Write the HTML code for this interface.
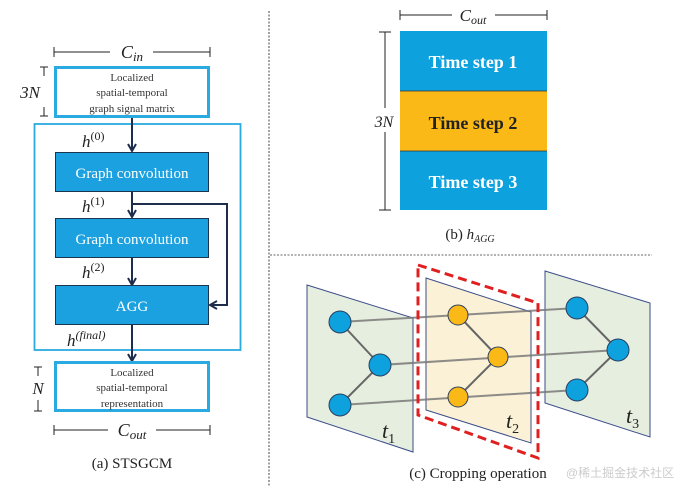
<!DOCTYPE html>
<html><head><meta charset="utf-8"><style>body{margin:0;background:#fff}svg{display:block}</style></head><body>
<svg width="683" height="487" viewBox="0 0 683 487" xmlns="http://www.w3.org/2000/svg" font-family="Liberation Serif, serif">
<defs><marker id="ar" markerWidth="10" markerHeight="10" refX="8" refY="5" orient="auto" markerUnits="userSpaceOnUse"><path d="M1,1 L8,5 L1,9" fill="none" stroke="#1f2d4d" stroke-width="2"/></marker></defs>
<line x1="269" y1="11" x2="269" y2="487" stroke="#444" stroke-width="1" stroke-dasharray="2,1.5"/>
<line x1="270" y1="255" x2="652" y2="255" stroke="#666" stroke-width="1" stroke-dasharray="2,1.5"/>
<g stroke="#222" stroke-width="1">
<line x1="54" y1="52" x2="110" y2="52"/><line x1="153" y1="52" x2="210" y2="52"/><line x1="54" y1="47" x2="54" y2="57"/><line x1="210" y1="47" x2="210" y2="57"/>
<line x1="40" y1="67" x2="48" y2="67"/><line x1="44" y1="67" x2="44" y2="76"/><line x1="40" y1="116" x2="48" y2="116"/><line x1="44" y1="107" x2="44" y2="116"/>
<line x1="34" y1="367" x2="42" y2="367"/><line x1="38" y1="367" x2="38" y2="376"/><line x1="34" y1="411" x2="42" y2="411"/><line x1="38" y1="400" x2="38" y2="411"/>
<line x1="54" y1="430" x2="108" y2="430"/><line x1="156" y1="430" x2="210" y2="430"/><line x1="54" y1="425" x2="54" y2="435"/><line x1="210" y1="425" x2="210" y2="435"/>
</g>
<text x="132" y="58" font-size="18" font-style="italic" text-anchor="middle" fill="#222">C<tspan font-size="13" dy="3">in</tspan></text>
<text x="30" y="98" font-size="17" font-style="italic" text-anchor="middle" fill="#222">3N</text>
<text x="38" y="394" font-size="17" font-style="italic" text-anchor="middle" fill="#222">N</text>
<text x="132" y="436" font-size="18" font-style="italic" text-anchor="middle" fill="#222">C<tspan font-size="13" dy="3">out</tspan></text>
<rect x="55.5" y="67.5" width="153" height="49" fill="#fff" stroke="#29abe2" stroke-width="3"/>
<g font-size="11" fill="#333" text-anchor="middle"><text x="132" y="81">Localized</text><text x="132" y="96">spatial-temporal</text><text x="132" y="112">graph signal matrix</text></g>
<rect x="34.5" y="124" width="206" height="226" fill="none" stroke="#29abe2" stroke-width="1.8"/>
<g stroke="#1f2d4d" stroke-width="2" fill="none">
<line x1="132" y1="118" x2="132" y2="151" marker-end="url(#ar)"/>
<line x1="132" y1="191" x2="132" y2="217" marker-end="url(#ar)"/>
<line x1="132" y1="258" x2="132" y2="285" marker-end="url(#ar)"/>
<line x1="132" y1="324" x2="132" y2="361" marker-end="url(#ar)"/>
<polyline points="133,204 227,204 227,305 210,305" marker-end="url(#ar)"/>
</g>
<g fill="#1ba1df" stroke="#1a3550" stroke-width="1"><rect x="55.5" y="152.5" width="153" height="39"/><rect x="55.5" y="218.5" width="153" height="39"/><rect x="55.5" y="285.5" width="153" height="39"/></g>
<g fill="#fff" font-size="15" text-anchor="middle"><text x="132" y="178">Graph convolution</text><text x="132" y="244">Graph convolution</text><text x="132" y="311">AGG</text></g>
<g font-size="17" font-style="italic" fill="#222"><text x="82" y="147">h<tspan font-size="12" dy="-7" font-style="normal">(0)</tspan></text><text x="82" y="212">h<tspan font-size="12" dy="-7" font-style="normal">(1)</tspan></text><text x="82" y="278">h<tspan font-size="12" dy="-7" font-style="normal">(2)</tspan></text><text x="67" y="346">h<tspan font-size="12" dy="-7">(final)</tspan></text></g>
<rect x="55.5" y="362.5" width="153" height="48" fill="#fff" stroke="#29abe2" stroke-width="3"/>
<g font-size="11" fill="#333" text-anchor="middle"><text x="132" y="376">Localized</text><text x="132" y="391">spatial-temporal</text><text x="132" y="407">representation</text></g>
<text x="132" y="468" font-size="15" text-anchor="middle" fill="#222">(a) STSGCM</text>
<g stroke="#222" stroke-width="1">
<line x1="400" y1="15" x2="452" y2="15"/><line x1="495" y1="15" x2="547" y2="15"/><line x1="400" y1="10" x2="400" y2="20"/><line x1="547" y1="10" x2="547" y2="20"/>
<line x1="385" y1="32" x2="385" y2="108"/><line x1="385" y1="132" x2="385" y2="210"/><line x1="379" y1="32" x2="391" y2="32"/><line x1="379" y1="210" x2="391" y2="210"/>
</g>
<text x="473" y="21" font-size="17" font-style="italic" text-anchor="middle" fill="#222">C<tspan font-size="12" dy="3">out</tspan></text>
<text x="384" y="127" font-size="16" font-style="italic" text-anchor="middle" fill="#222">3N</text>
<rect x="400" y="31" width="147" height="60" fill="#0da2de"/><rect x="400" y="91" width="147" height="60" fill="#fbb917"/><rect x="400" y="151" width="147" height="59" fill="#0da2de"/>
<g stroke="#333" stroke-width="0.8"><line x1="400" y1="91" x2="547" y2="91"/><line x1="400" y1="151" x2="547" y2="151"/></g>
<g font-size="18" font-weight="bold" text-anchor="middle"><text x="473" y="68" fill="#fff">Time step 1</text><text x="473" y="129" fill="#222">Time step 2</text><text x="473" y="188" fill="#fff">Time step 3</text></g>
<text x="470" y="239" font-size="15" text-anchor="middle" fill="#222">(b) <tspan font-style="italic">h</tspan><tspan font-size="10" font-style="italic" dy="3">AGG</tspan></text>
<polygon points="307,285 413,318 413,452 307,417" fill="#e6eedf" stroke="#3b4d8a" stroke-width="1"/>
<polygon points="426,278 531,312 531,443 426,410" fill="#fbf1d6" stroke="#3b4d8a" stroke-width="1"/>
<polygon points="545,271 650,303 650,437 545,403" fill="#e6eedf" stroke="#3b4d8a" stroke-width="1"/>
<g stroke="#7a7a7a" stroke-width="2" opacity="0.85">
<line x1="340" y1="322" x2="577" y2="308"/><line x1="380" y1="365" x2="618" y2="350"/><line x1="340" y1="405" x2="577" y2="390"/>
</g>
<g stroke="#666" stroke-width="2">
<line x1="340" y1="322" x2="380" y2="365"/><line x1="380" y1="365" x2="340" y2="405"/>
<line x1="458" y1="315" x2="498" y2="357"/><line x1="498" y1="357" x2="458" y2="397"/>
<line x1="577" y1="308" x2="618" y2="350"/><line x1="618" y1="350" x2="577" y2="390"/>
</g>
<polygon points="418,265 538,303 538,458 418,415" fill="none" stroke="#e02020" stroke-width="3" stroke-dasharray="9,5"/>
<g stroke="#2a3f60" stroke-width="1">
<g fill="#0da2de"><circle cx="340" cy="322" r="11"/><circle cx="380" cy="365" r="11"/><circle cx="340" cy="405" r="11"/><circle cx="577" cy="308" r="11"/><circle cx="618" cy="350" r="11"/><circle cx="577" cy="390" r="11"/></g>
<g fill="#fbb917"><circle cx="458" cy="315" r="10"/><circle cx="498" cy="357" r="10"/><circle cx="458" cy="397" r="10"/></g>
</g>
<g font-size="22" font-style="italic" fill="#222"><text x="382" y="438">t<tspan font-size="14" dy="5" font-style="normal">1</tspan></text><text x="506" y="428">t<tspan font-size="14" dy="5" font-style="normal">2</tspan></text><text x="626" y="423">t<tspan font-size="14" dy="5" font-style="normal">3</tspan></text></g>
<text x="478" y="478" font-size="15" text-anchor="middle" fill="#222">(c) Cropping operation</text>
<text x="620" y="477" font-size="12" text-anchor="middle" fill="#ccc" font-family="Liberation Sans, Noto Sans CJK SC, sans-serif">@稀土掘金技术社区</text>
</svg>
</body></html>
